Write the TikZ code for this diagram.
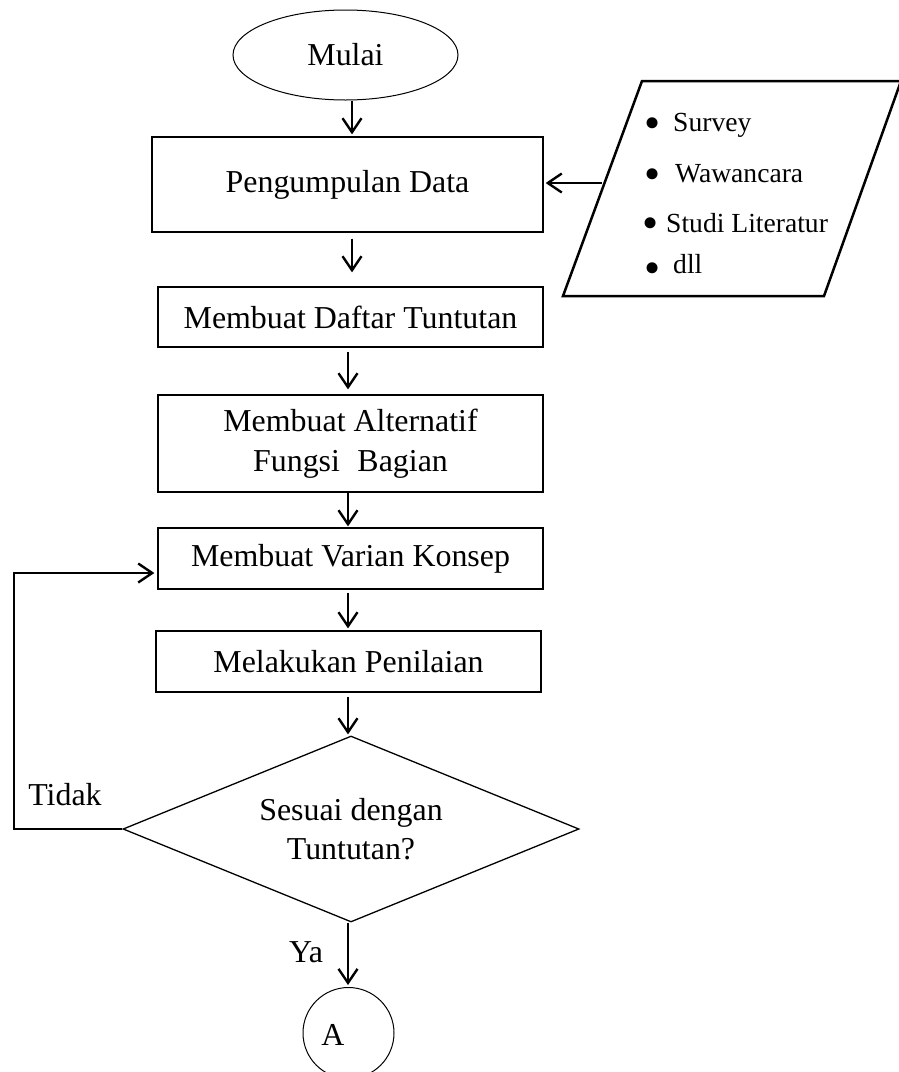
\documentclass[tikz,border=0pt]{standalone}
\usepackage{fontspec}
\setmainfont{Liberation Serif}
\usetikzlibrary{shapes.geometric,arrows.meta,calc}
\begin{document}
\begin{tikzpicture}[x=1pt,y=-1pt,
  every node/.style={font=\fontsize{31.9pt}{39.5pt}\selectfont, inner sep=0pt},
  box/.style={draw, line width=1.3pt, minimum width=385pt},
  arr/.style={line width=2.4pt, -{Straight Barb[length=14pt,width=19pt]}},
  item/.style={anchor=base west, font=\fontsize{27.6pt}{33pt}\selectfont},
  bul/.style={anchor=center, font=\fontsize{46pt}{46pt}\selectfont},
  ]
\useasboundingbox (0,0) rectangle (899,1072);
% column helpers
\coordinate (c1) at (352,0);
\coordinate (c2) at (348,0);
% nodes
\node[ellipse, draw, line width=1pt, minimum width=225pt, minimum height=90pt] (mulai) at (345.5,55) {Mulai};
\node[box, minimum width=391pt, minimum height=95pt] (peng) at (347.5,184.5) {Pengumpulan Data};
\node[box, minimum height=60pt] (daftar) at (350.5,317) {Membuat Daftar Tuntutan};
\node[box, minimum height=97pt, align=center] (alt) at (350.5,443.5) {Membuat Alternatif\\Fungsi\hspace{0.55em}Bagian};
\node[box, minimum height=61pt] (var) at (350.5,558.5) {Membuat Varian Konsep};
\node[box, minimum height=61pt] (pen) at (348.5,661.5) {Melakukan Penilaian};
\node[diamond, draw, line width=1.3pt, minimum width=456pt, minimum height=186pt, aspect=2.45, align=center] (dia) at (351,829) {Sesuai dengan\\Tuntutan?};
\node[circle, draw, line width=1pt, minimum size=91pt] (endA) at (348.5,1033) {};
\node (labA) at (333,1035) {A};
\node (tidak) at (65,795) {Tidak};
\node (ya) at (306,952) {Ya};
% input parallelogram
\coordinate (pTL) at (642,81);
\coordinate (pTR) at (901,81);
\coordinate (pBR) at (824,296);
\coordinate (pBL) at (563,296);
\draw[line width=2.5pt, line join=miter] (pTL) -- (pTR) -- (pBR) -- (pBL) -- cycle;
\coordinate (pin) at (602,183);
\node[bul] (b1) at (653,128) {•};
\node[item] (t1) at (673,131) {Survey};
\node[bul] (b2) at (653,179) {•};
\node[item] (t2) at (675,182) {Wawancara};
\node[bul] (b3) at (651,228) {•};
\node[item] (t3) at (666,232) {Studi Literatur};
\node[bul] (b4) at (653,273) {•};
\node[item] (t4) at (673,273) {dll};
% connectors
\draw[arr, shorten >=2pt] (mulai.south -| c1) -- (peng.north -| c1);
\draw[arr, shorten >=2pt] (pin) -- (peng.east |- pin);
\draw[arr, shorten <=6pt, shorten >=14pt] (peng.south -| c1) -- (daftar.north -| c1);
\draw[arr, shorten <=4pt, shorten >=5pt] (daftar.south -| c2) -- (alt.north -| c2);
\draw[arr, shorten >=1pt] (alt.south -| c2) -- (var.north -| c2);
\draw[arr, shorten <=3pt, shorten >=2pt] (var.south -| c2) -- (pen.north -| c2);
\draw[arr, shorten <=4pt, shorten >=1pt] (pen.south -| c2) -- (dia.north -| c2);
\draw[arr, shorten >=2pt] (dia.south -| c2) -- (endA.north -| c2);
\coordinate (lp) at (14,573);
\draw[arr, shorten >=3pt] (dia.west) -| (lp) -- (var.west |- lp);
\end{tikzpicture}
\end{document}
